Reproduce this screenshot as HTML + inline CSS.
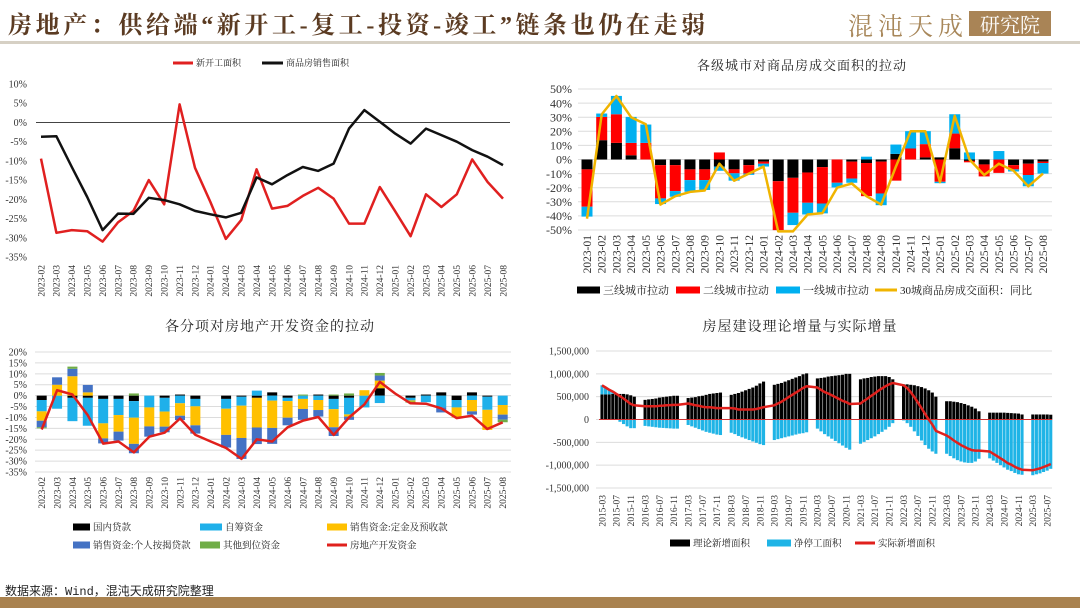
<!DOCTYPE html>
<html><head><meta charset="utf-8">
<style>
html,body{margin:0;padding:0;background:#fff;}
body{width:1080px;height:608px;position:relative;overflow:hidden;font-family:"Liberation Serif","Noto Serif CJK SC",serif;}
#title{position:absolute;left:8px;top:5px;font-size:24px;color:#5b3b22;font-family:"Liberation Serif","Noto Serif CJK SC",serif;white-space:nowrap;letter-spacing:3.6px;font-weight:bold;}
#logo1{position:absolute;left:848px;top:7px;font-size:25px;color:#a8875a;font-family:"Noto Serif CJK SC",serif;letter-spacing:5px;}
#logo2{position:absolute;left:969px;top:11px;width:82px;height:25px;background:#a98456;color:#fff;font-size:20px;line-height:25px;text-align:center;font-family:"Noto Serif CJK SC",serif;}
#hline{position:absolute;left:0;top:41px;width:1080px;height:3px;background:#d6d0c4;}
#source{position:absolute;left:5px;top:582px;font-size:12px;color:#222;font-family:"Liberation Mono","Noto Sans CJK SC",monospace;}
#band{position:absolute;left:0;top:597px;width:1080px;height:11px;background:#a9824f;}
svg{position:absolute;left:0;top:0;}
</style></head><body>
<div id="title">房地产：供给端“新开工-复工-投资-竣工”链条也仍在走弱</div>
<div id="logo1">混沌天成</div>
<div id="logo2">研究院</div>
<div id="hline"></div>
<svg id="charts" width="1080" height="608"></svg>
<div id="source">数据来源：Wind，混沌天成研究院整理</div>
<div id="band"></div>
<script>
// ---------- Chart 1 data ----------
const c1Cats=['2023-02','2023-03','2023-04','2023-05','2023-06','2023-07','2023-08','2023-09','2023-10','2023-11','2023-12','2024-01','2024-02','2024-03','2024-04','2024-05','2024-06','2024-07','2024-08','2024-09','2024-10','2024-11','2024-12','2025-01','2025-02','2025-03','2025-04','2025-05','2025-06','2025-07','2025-08'];
const c1NewStart=[-9.4,-28.7,-28,-28.3,-31,-26,-23,-15,-21.3,4.7,-11.8,-20.7,-30.3,-25.4,-12.2,-22.4,-21.7,-19.1,-17,-19.8,-26.3,-26.3,-16.8,-23.1,-29.6,-18.7,-22,-18.7,-9.6,-15.5,-19.8];
const c1Sales=[-3.7,-3.6,-11.6,-19.4,-28,-23.7,-23.8,-19.6,-20.2,-21.3,-23,-23.9,-24.7,-23.5,-14.3,-16.1,-13.7,-11.6,-12.6,-10.7,-1.6,3.2,0.2,-2.9,-5.5,-1.6,-3.3,-5,-7.2,-8.9,-11.1];
const c1Ticks=[10,5,0,-5,-10,-15,-20,-25,-30,-35];
// ---------- Chart 2 data ----------
const c2Cats=['2023-01','2023-02','2023-03','2023-04','2023-05','2023-06','2023-07','2023-08','2023-09','2023-10','2023-11','2023-12','2024-01','2024-02','2024-03','2024-04','2024-05','2024-06','2024-07','2024-08','2024-09','2024-10','2024-11','2024-12','2025-01','2025-02','2025-03','2025-04','2025-05','2025-06','2025-07','2025-08'];
const c2Tier3=[-7,13.7,11.8,3,0,-4,-4,-7,-7,-5,-7,-4,-1.5,-15.4,-13,-9.2,-5.4,0,-1.5,-2.5,-1.5,4,0,1.5,1.5,8,-1,-3.5,0,-4,-3,-1.5];
const c2Tier2=[-26.5,16.5,20.3,8.8,11.8,-23.6,-18.4,-7.6,-7.6,5,-2.8,-5.9,-1.5,-34.7,-24.8,-21.5,-25.8,-16.5,-12,-23.5,-22.6,-15,7.8,9.4,-15.8,10.4,-1,-8.5,-9.5,-3,-8,-1];
const c2Tier1=[-7,2.4,13,18.4,13,-4,-4,-8.3,-7,-3,-5.2,-1,-2,0,-8.7,-8.3,-7,-3.3,-3,2,-8.3,6.6,12.3,9.2,-1,13.7,5,0,6,-1.5,-8,-7.5];
const c2Yoy=[-42,32,45,30,25,-32,-26,-23,-22,-3,-15,-10,-5,-51,-51,-39,-38,-20,-17,-26,-32,-5,20,20,-16,31,0,-11,-3,-8,-19,-10];
const c2Ticks=[50,40,30,20,10,0,-10,-20,-30,-40,-50];
// ---------- Chart 3 data ----------
const c3Cats=c1Cats.slice();
const c3Loan=[-2,0,-1,-1,-1.5,-1.5,-2.5,0,-1,0.5,-1.5,0,-1.5,-0.5,-1,1.5,-1,0,0.5,-1.5,-1,0,3.4,0,-1,0.5,1.5,-2,1.5,-0.5,0];
const c3Self=[-5.2,-6,-10.7,-12.8,-11.2,-7.4,-7.6,-5.4,-6.3,-3.5,-3.4,0,-4.5,-4.1,2.3,-2.3,-1.5,-1.5,-2,-4.7,-7.6,-5.4,-3.4,0,-1.2,-3,-5.4,-3.4,-2,-6,-4.3];
const c3Deposit=[-4.3,5,8.9,1.5,-6.9,-7.6,-12,-8.7,-6.9,-5.7,-8.7,0,-12,-14.8,-13.6,-12.5,-7.6,-4.6,-4.6,-8.3,-1,2.5,3.5,0,-0.5,0,0,-4.6,-5.2,-9.2,-4.4];
const c3Mortgage=[-3,3.4,3.4,3.4,-2.3,-4.1,-4.3,-4.7,-2.6,-2,-3.8,0,-5.8,-9.6,-7.6,-7.3,-3.5,-5,-3,-4,-1.5,0,2.3,0,0,0,-2.3,0,-1.5,0,-2.3];
const c3Other=[-0.5,0,1,0,0,0,1,0,0,0,0,0,0,0,0,0,0,0.5,0,0.5,1,0,1.2,0,-0.5,0,0,0,0,0,-1.2];
const c3Total=[-15.5,2.5,0.5,-9,-22,-21,-26,-18.8,-17,-10.5,-18,-21,-24,-29,-20,-21,-14.5,-11.5,-9.8,-18,-10,-4,6.3,1,-3.5,-3.7,-5.8,-10.3,-9.2,-15.3,-12.2];
const c3Ticks=[20,15,10,5,0,-5,-10,-15,-20,-25,-30,-35];
// ---------- Chart 4 data (thousand m², monthly from 2015-03, Jan/Feb empty) ----------
const n=null;
const c4Theory=[550,550,550,560,560,560,560,550,530,500,
n,n,430,440,450,460,480,490,500,510,520,520,
n,n,470,480,490,510,520,540,560,570,580,590,
n,n,540,560,580,610,640,670,700,740,790,830,
n,n,760,780,800,830,860,890,920,950,990,1010,
n,n,900,910,920,940,950,960,970,980,1000,1000,
n,n,880,900,910,930,940,950,950,950,930,880,
n,n,770,770,760,750,730,710,680,640,590,500,
n,n,400,400,390,380,360,340,310,280,240,180,
n,n,150,150,150,150,150,145,140,135,130,110,
n,n,110,110,110,110,110,105];
const c4Stop=[200,150,100,50,0,-50,-100,-150,-190,-190,
n,n,-140,-150,-160,-170,-180,-185,-190,-195,-200,-200,
n,n,-120,-150,-180,-210,-240,-270,-290,-310,-330,-340,
n,n,-290,-320,-360,-390,-420,-450,-480,-510,-540,-560,
n,n,-450,-430,-410,-390,-370,-350,-330,-310,-300,-280,
n,n,-200,-260,-320,-370,-420,-470,-520,-570,-620,-660,
n,n,-530,-490,-450,-410,-370,-320,-270,-220,-160,-80,
n,n,-20,-80,-160,-260,-360,-460,-560,-640,-700,-750,
n,n,-750,-800,-850,-890,-920,-940,-950,-950,-920,-860,
n,n,-850,-900,-950,-1000,-1050,-1100,-1130,-1170,-1200,-1210,
n,n,-1220,-1200,-1180,-1150,-1120,-1080];
const c4Actual=[750,700,650,610,560,510,460,400,340,310,
n,n,290,290,290,290,300,305,310,315,320,320,
n,n,350,330,310,300,280,270,270,260,250,250,
n,n,250,240,220,220,220,220,220,230,250,270,
n,n,310,350,390,440,490,540,590,640,690,730,
n,n,700,650,600,570,530,490,450,410,380,340,
n,n,350,410,460,520,570,630,680,730,770,800,
n,n,750,690,600,490,370,250,120,0,-110,-250,
n,n,-350,-400,-460,-510,-560,-600,-640,-670,-680,-680,
n,n,-700,-750,-800,-850,-900,-955,-990,-1035,-1070,-1100,
n,n,-1110,-1090,-1070,-1040,-1010,-975];
const c4Ticks=[1500,1000,500,0,-500,-1000,-1500];
const c4TickLabels=['1,500,000','1,000,000','500,000','0','-500,000','-1,000,000','-1,500,000'];
const c4XLabels=['2015-03','2015-07','2015-11','2016-03','2016-07','2016-11','2017-03','2017-07','2017-11','2018-03','2018-07','2018-11','2019-03','2019-07','2019-11','2020-03','2020-07','2020-11','2021-03','2021-07','2021-11','2022-03','2022-07','2022-11','2023-03','2023-07','2023-11','2024-03','2024-07','2024-11','2025-03','2025-07'];

const NS='http://www.w3.org/2000/svg';
const svg=document.getElementById('charts');
function mk(tag,attrs,parent){const e=document.createElementNS(NS,tag);for(const k in attrs)e.setAttribute(k,attrs[k]);(parent||svg).appendChild(e);return e;}
function lin(d0,d1,r0,r1){return v=>r0+(v-d0)*(r1-r0)/(d1-d0);}
const SERIF='"Liberation Serif","Noto Serif CJK SC",serif';

function group(name){const g=mk('g',{});return g;}
function yLabels(g,ticks,labels,y,xr,fs){ticks.forEach((t,i)=>{const e=mk('text',{x:xr,y:y(t)+fs*0.35,'text-anchor':'end','font-size':fs,fill:'#333','font-family':SERIF},g);e.textContent=labels[i];});}
function xLabels(g,labels,xs,top,fs){labels.forEach((l,i)=>{const x=xs(i)+fs*0.35;const e=mk('text',{x:x,y:top,'text-anchor':'end','font-size':fs,fill:'#333','font-family':SERIF,transform:`rotate(-90 ${x} ${top})`},g);e.textContent=l;});}
function grid(g,ticks,y,x0,x1,col){ticks.forEach(t=>{const e=mk('line',{x1:x0,x2:x1,y1:y(t),y2:y(t),stroke:col,'stroke-width':1},g);});}
function polyline(g,vals,x,y,col,w,name){let d='';let started=false;vals.forEach((v,i)=>{if(v===null)return;d+=(started?'L':'M')+x(i).toFixed(1)+' '+y(v).toFixed(1)+' ';started=true;});const e=mk('path',{d:d,fill:'none',stroke:col,'stroke-width':w,'stroke-linejoin':'round'},g);return e;}
function legendEntry(g,kind,x,y,col,label,fs,w){let s;if(kind==='line'){s=mk('line',{x1:x,x2:x+w,y1:y,y2:y,stroke:col,'stroke-width':3},g);}else{s=mk('rect',{x:x,y:y-3.5,width:w,height:7,fill:col},g);}const t=mk('text',{x:x+w+3,y:y+fs*0.36,'font-size':fs,fill:'#222','font-family':SERIF},g);t.textContent=label;}
function title(g,x,y,txt,fs){const t=mk('text',{x:x,y:y,'text-anchor':'middle','font-size':fs,fill:'#222','font-family':SERIF,'letter-spacing':1},g);t.textContent=txt;}
function stacks(g,seriesList,x,y,bw){const n=seriesList[0].vals.length;const pos=new Array(n).fill(0),neg=new Array(n).fill(0);seriesList.forEach(s=>{s.vals.forEach((v,i)=>{if(v===null||v===0)return;let a,b;if(v>0){a=pos[i];b=pos[i]+v;pos[i]=b;}else{a=neg[i];b=neg[i]+v;neg[i]=b;}const y0=Math.min(y(a),y(b)),h=Math.abs(y(a)-y(b));const r=mk('rect',{x:x(i)-bw/2,y:y0,width:bw,height:h,fill:s.col},g);});});}

// ===== Chart 1 =====
(function(){
const g=group('chart-new-starts-vs-sales');
const y=lin(10,-35,84,257), x=i=>41+i*(503-41)/(c1Cats.length-1);
yLabels(g,c1Ticks,c1Ticks.map(t=>t+'%'),y,27,10);
const z=mk('line',{x1:36,x2:510,y1:y(0),y2:y(0),stroke:'#444','stroke-width':1},g);


polyline(g,c1NewStart,x,y,'#e02020',2.5,'new-starts-line');
polyline(g,c1Sales,x,y,'#111',2.5,'sales-area-line');
xLabels(g,c1Cats,x,265,9.5);
legendEntry(g,'line',173,63,'#e02020','新开工面积',9,20);
legendEntry(g,'line',262,63,'#111','商品房销售面积',9,21);
})();

// ===== Chart 2 =====
(function(){
const g=group('chart-city-tier-contribution');
const y=lin(50,-50,89,230), x=i=>587+i*(1043-587)/(c2Cats.length-1);
title(g,802,70,'各级城市对商品房成交面积的拉动',13);
grid(g,c2Ticks,y,578,1052,'#dcdcdc');
yLabels(g,c2Ticks,c2Ticks.map(t=>t+'%'),y,572,12);
stacks(g,[{vals:c2Tier3,col:'#000',name:'bar-tier3'},{vals:c2Tier2,col:'#ff0000',name:'bar-tier2'},{vals:c2Tier1,col:'#00b0f0',name:'bar-tier1'}],x,y,11);
polyline(g,c2Yoy,x,y,'#f0b400',2.5,'yoy-30-cities-line');
xLabels(g,c2Cats,x,235,11.5);
legendEntry(g,'rect',577,290,'#000','三线城市拉动',11,23);
legendEntry(g,'rect',676,290,'#ff0000','二线城市拉动',11,24);
legendEntry(g,'rect',776,290,'#00b0f0','一线城市拉动',11,24);
legendEntry(g,'line',875,290,'#f0b400','30城商品房成交面积：同比',11,22);
})();

// ===== Chart 3 =====
(function(){
const g=group('chart-funding-contribution');
const y=lin(20,-35,352,472), x=i=>41.7+i*(502.7-41.7)/(c3Cats.length-1);
title(g,270,331,'各分项对房地产开发资金的拉动',14);
grid(g,c3Ticks,y,35,511,'#dcdcdc');
yLabels(g,c3Ticks,c3Ticks.map(t=>t+'%'),y,27,10);
stacks(g,[{vals:c3Loan,col:'#000',name:'bar-domestic-loans'},{vals:c3Self,col:'#1fb0ea',name:'bar-self-raised'},{vals:c3Deposit,col:'#ffc000',name:'bar-deposits'},{vals:c3Mortgage,col:'#4472c4',name:'bar-mortgage'},{vals:c3Other,col:'#70ad47',name:'bar-other-funds'}],x,y,10);
polyline(g,c3Total,x,y,'#e0201c',2.5,'total-funding-line');
xLabels(g,c3Cats,x,477,9.5);
legendEntry(g,'rect',73,527,'#000','国内贷款',9.5,17);
legendEntry(g,'rect',200,527,'#1fb0ea','自筹资金',9.5,22);
legendEntry(g,'rect',327,527,'#ffc000','销售资金:定金及预收款',9.5,20);
legendEntry(g,'rect',73,545,'#4472c4','销售资金:个人按揭贷款',9.5,17);
legendEntry(g,'rect',200,545,'#70ad47','其他到位资金',9.5,20);
legendEntry(g,'line',327,545,'#e0201c','房地产开发资金',9.5,20);
})();

// ===== Chart 4 =====
(function(){
const g=group('chart-theoretical-vs-actual');
const y=lin(1500,-1500,351,488), x=i=>602+i*3.59;
title(g,800,331,'房屋建设理论增量与实际增量',14);
grid(g,c4Ticks,y,596,1052,'#dcdcdc');
yLabels(g,c4Ticks,c4TickLabels,y,589,10);
stacks(g,[{vals:c4Theory,col:'#000',name:'bar-theoretical-new-area'},{vals:c4Stop,col:'#1fb4e6',name:'bar-net-suspended-area'}],x,y,3.1);
const z=mk('line',{x1:599,x2:1052,y1:y(0),y2:y(0),stroke:'#d03030','stroke-width':1},g);


polyline(g,c4Actual,x,y,'#e0201c',2.5,'actual-new-area-line');
xLabels(g,c4XLabels,i=>x(i*4),495,9.5);
legendEntry(g,'rect',670,543,'#000','理论新增面积',9.5,20);
legendEntry(g,'rect',767,543,'#1fb4e6','净停工面积',9.5,24);
legendEntry(g,'line',855,543,'#e0201c','实际新增面积',9.5,20);
})();
</script>
</body></html>
